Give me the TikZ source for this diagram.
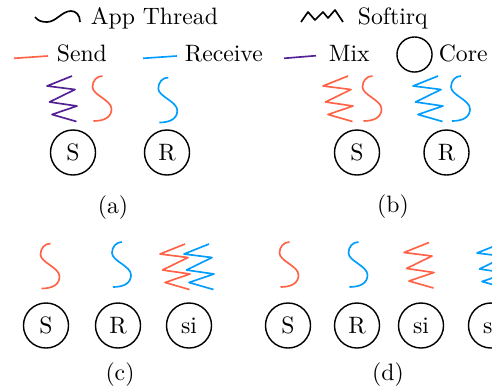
\documentclass[tikz,border=0pt]{standalone}
\usepackage{tikz}
\usetikzlibrary{positioning}
\definecolor{sendred}{RGB}{255,99,71}
\definecolor{recvblue}{RGB}{0,157,255}
\definecolor{mixpurple}{RGB}{84,32,150}

\begin{document}
\begin{tikzpicture}[x=0.4219pt, y=-0.4219pt, line width=0.7pt, line join=round,
  core/.style={draw, circle, line width=0.6pt, minimum size=19pt, inner sep=0pt},
  lbl/.style={anchor=base west, inner sep=0pt},
  thread/.pic={\draw (1,0) .. controls (-5,0) and (-9,5) .. (-9,11)
      .. controls (-9,19) and (10,24) .. (10,33)
      .. controls (10,41) and (3,45) .. (-8,45);},
  softirq/.pic={\draw (0,0) -- ++(-25,10) -- ++(28,3.5) -- ++(-25.5,12.5)
      -- ++(27.5,4) -- ++(-25,8.5) -- ++(24.5,7);}]
\useasboundingbox (0,0) rectangle (492,390);
\clip (0,0) rectangle (492,390);

% legend
\draw (35,17) .. controls (38,21) and (42,22) .. (47,22)
  .. controls (56,22) and (62,11) .. (71,11) .. controls (76,11) and (80,15) .. (80,22);
\node[lbl] (lapp) at (90,24) {App Thread};
\draw (301,22) -- (308,12) -- (315,20) -- (323,12) -- (328,18) -- (335,10) -- (343,22);
\node[lbl] (lsoft) at (357,24) {Softirq};
\draw[sendred] (14,58.3) -- (48,56);
\node[lbl] (lsend) at (56,61.5) {Send};
\draw[recvblue] (143,58.3) -- (177,56);
\node[lbl] (lrecv) at (184,61.5) {Receive};
\draw[mixpurple] (284,58.3) -- (316,55.7);
\node[lbl] (lmix) at (328,61.5) {Mix};
\node[core, minimum size=14.8pt] (lcirc) at (414.5,54.5) {};
\node[lbl] (lcore) at (438,61.5) {Core};

% (a)
\pic[mixpurple] at (72,76) {softirq};
\pic[sendred] at (101.5,76) {thread};
\pic[recvblue] at (167.3,77.5) {thread};
\node[core] (aS) at (73,152.5) {S};
\node[core] (aR) at (167,152.5) {R};
\node (capa) at (113,208) {(a)};

% (b)
\pic[sendred] at (348,76) {softirq};
\pic[sendred] at (371.5,76) {thread};
\pic[recvblue] at (438,76) {softirq};
\pic[recvblue] at (460,76) {thread};
\node[core] (bS) at (357,152.5) {S};
\node[core] (bR) at (446.5,152.5) {R};
\node (capb) at (393,207) {(b)};

% (c)
\pic[sendred] at (49.5,243.5) {thread};
\pic[recvblue] at (121,242) {thread};
\pic[sendred] at (185,244) {softirq};
\pic[recvblue] at (209,244) {softirq};
\node[core] (cS) at (46,325.5) {S};
\node[core] (cR) at (118,325.5) {R};
\node[core] (csi) at (189,325.5) {si};
\node (capc) at (120,375) {(c)};

% (d)
\pic[sendred] at (288.5,242) {thread};
\pic[recvblue] at (357.5,242) {thread};
\pic[sendred] at (429,242.5) {softirq};
\pic[recvblue] at (502,243) {softirq};
\node[core] (dS) at (288,325.5) {S};
\node[core] (dR) at (357,325.5) {R};
\node[core] (dsi) at (421,325.5) {si};
\node[core] (dsii) at (491,325.5) {si};
\node (capd) at (388,375) {(d)};
\end{tikzpicture}
\end{document}
